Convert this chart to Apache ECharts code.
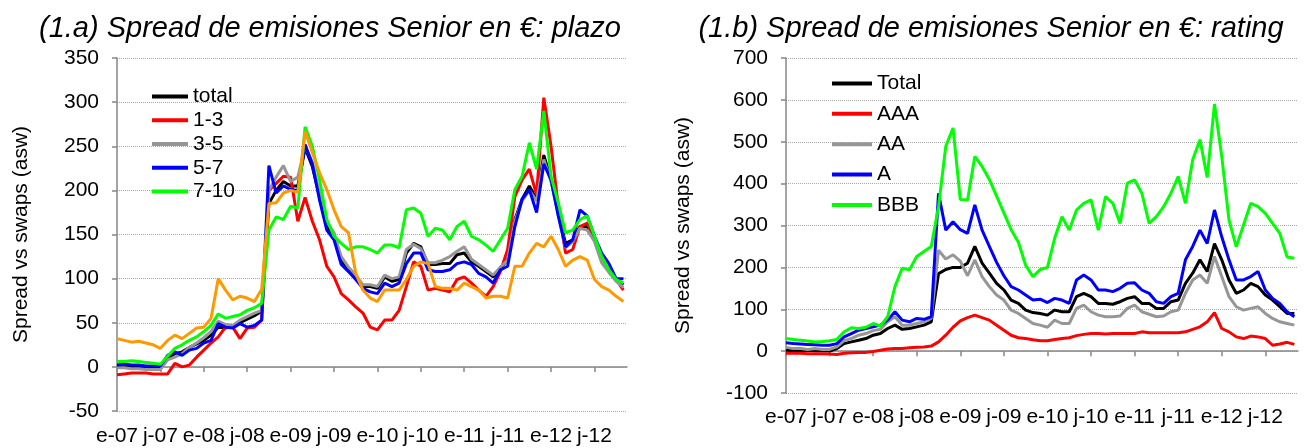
<!DOCTYPE html>
<html>
<head>
<meta charset="utf-8">
<script src="https://cdn.jsdelivr.net/npm/echarts@6/dist/echarts.min.js"></script>
<style>
html, body { margin: 0; padding: 0; background: #fff; }
#chart { width: 1306px; height: 448px; }
</style>
</head>
<body>
<div id="chart"></div>
<script>
// eje x: un valor por mes, indice 0 = enero 2007 ... 70 = noviembre 2012
const tickLabels = ['e-07', 'j-07', 'e-08', 'j-08', 'e-09', 'j-09', 'e-10', 'j-10', 'e-11', 'j-11', 'e-12', 'j-12'];

// (1.a) por plazo
const plazoTotal = [0, 1, 0, 0, -1, -1, -1, 10, 15, 17, 22, 26, 30, 36, 45, 44, 46, 50, 54, 58, 63, 185, 200, 210, 205,
  205, 248, 227, 193, 159, 148, 121, 110, 102, 91, 91, 89, 102, 97, 99, 129, 140, 136, 116, 116, 117, 117, 127,
  129, 119, 114, 108, 102, 112, 121, 167, 190, 205, 190, 240, 212, 174, 140, 144, 159, 159, 144, 121, 110, 99, 93];
const plazo1_3 = [-9, -8, -7, -7, -7, -8, -8, -8, 4, 0, 2, 11, 19, 27, 34, 45, 45, 32, 44, 45, 53, 200, 208, 216, 215,
  165, 192, 165, 144, 114, 102, 83, 76, 68, 61, 45, 42, 53, 53, 64, 91, 119, 114, 87, 89, 87, 85, 99,
  102, 95, 87, 80, 91, 108, 133, 193, 212, 224, 195, 305, 250, 182, 129, 133, 159, 163, 144, 121, 110, 99, 87];
const plazo3_5 = [-1, -1, -2, -2, -3, -3, -3, 8, 11, 15, 22, 27, 33, 40, 52, 48, 47, 53, 57, 61, 64, 200, 215, 228, 210,
  215, 250, 232, 196, 165, 152, 125, 113, 104, 93, 93, 91, 104, 100, 102, 133, 139, 134, 118, 118, 121, 125, 131,
  136, 122, 116, 110, 104, 113, 121, 165, 188, 200, 188, 235, 210, 172, 135, 142, 157, 155, 142, 118, 107, 97, 90];
const plazo5_7 = [2, 3, 2, 2, 1, 1, 1, 13, 17, 13, 19, 21, 27, 30, 49, 45, 44, 49, 45, 47, 53, 228, 197, 205, 201,
  200, 252, 230, 189, 155, 144, 116, 108, 99, 89, 85, 83, 95, 91, 95, 117, 129, 129, 110, 108, 108, 110, 117,
  119, 116, 106, 102, 95, 110, 114, 159, 190, 201, 175, 230, 212, 171, 136, 144, 178, 171, 148, 129, 117, 100, 100];
const plazo7_10 = [6, 6, 7, 6, 5, 4, 3, 12, 21, 25, 30, 34, 40, 47, 60, 55, 57, 59, 64, 67, 72, 155, 170, 167, 182,
  180, 272, 250, 212, 167, 148, 140, 133, 136, 136, 133, 129, 138, 138, 135, 178, 180, 174, 148, 157, 155, 144, 159,
  165, 148, 144, 138, 131, 144, 157, 201, 216, 254, 224, 290, 216, 186, 152, 155, 167, 171, 148, 125, 110, 99, 95];
const plazoMas10 = [32, 30, 28, 29, 27, 25, 21, 30, 36, 32, 38, 44, 45, 55, 100, 87, 76, 80, 78, 74, 88, 185, 186, 197, 200,
  198, 267, 243, 220, 201, 178, 159, 152, 106, 87, 78, 74, 87, 87, 87, 99, 114, 119, 117, 91, 89, 89, 87,
  95, 91, 87, 78, 80, 80, 78, 114, 114, 129, 140, 136, 148, 133, 114, 121, 125, 121, 99, 91, 87, 80, 74];

// (1.b) por rating
const ratingTotal = [2, 1, 0, 2, 1, 1, 0, 6, 18, 22, 26, 30, 38, 42, 54, 62, 52, 54, 58, 62, 70, 185, 195, 200, 200,
  210, 250, 210, 186, 162, 146, 122, 114, 98, 92, 90, 86, 98, 94, 94, 130, 138, 130, 114, 114, 112, 118, 126,
  130, 114, 114, 102, 102, 118, 122, 162, 186, 218, 190, 257, 218, 170, 138, 146, 162, 154, 134, 122, 106, 90, 90];
const ratingAAA = [-5, -5, -5, -6, -6, -6, -7, -8, -5, -4, -3, -3, -1, 2, 5, 6, 6, 8, 9, 10, 12, 22, 38, 57, 72,
  80, 86, 80, 74, 62, 50, 38, 32, 30, 27, 25, 25, 28, 30, 32, 37, 40, 42, 42, 41, 42, 42, 42,
  42, 46, 44, 44, 44, 44, 44, 46, 52, 58, 70, 92, 54, 46, 34, 30, 36, 34, 30, 14, 17, 21, 16];
const ratingAA = [9, 6, 6, 4, 6, 4, 4, 10, 25, 30, 38, 42, 49, 52, 70, 82, 62, 62, 66, 70, 78, 241, 220, 230, 215,
  180, 218, 178, 154, 134, 122, 98, 90, 78, 66, 62, 57, 74, 66, 66, 102, 110, 94, 86, 82, 82, 84, 102,
  110, 94, 88, 82, 84, 94, 98, 138, 170, 182, 162, 226, 178, 130, 106, 98, 102, 106, 90, 78, 70, 66, 62];
const ratingA = [20, 18, 17, 16, 15, 14, 14, 18, 34, 42, 50, 54, 58, 62, 74, 94, 74, 70, 78, 76, 82, 377, 289, 309, 290,
  281, 349, 289, 250, 212, 180, 154, 146, 134, 122, 124, 116, 126, 122, 114, 170, 182, 170, 146, 146, 142, 150, 162,
  163, 146, 138, 118, 114, 130, 138, 218, 250, 289, 257, 337, 273, 218, 170, 170, 178, 190, 146, 126, 114, 94, 82];
const ratingBBB = [30, 28, 26, 24, 22, 23, 25, 28, 46, 56, 54, 57, 66, 60, 82, 154, 198, 194, 226, 238, 250, 345, 489, 533, 362,
  361, 465, 441, 410, 370, 330, 290, 260, 205, 178, 195, 200, 270, 321, 289, 337, 353, 361, 289, 369, 353, 305, 401,
  409, 377, 305, 321, 345, 377, 417, 353, 457, 505, 415, 590, 465, 313, 249, 301, 353, 345, 329, 305, 281, 225, 222];

const FONT = '"Liberation Sans", Arial, sans-serif';
const AXIS_GREY = '#868686';
const tickPos = tickLabels.map((l, i) => i * 6);

const toPoints = arr => arr.map((v, i) => [i, v]);

function lineSeries(name, data, color, xIdx, yIdx) {
    return {
        name: name,
        type: 'line',
        data: toPoints(data),
        xAxisIndex: xIdx,
        yAxisIndex: yIdx,
        symbol: 'none',
        showSymbol: false,
        lineStyle: { color: color, width: 3 },
        itemStyle: { color: color },
        animation: false
    };
}

// eje con la linea en cero + eje solo con etiquetas abajo (como Excel)
function xAxes(gridIndex, labelMargin) {
    return [{
        type: 'value', gridIndex: gridIndex, min: 0, max: 70.5,
        axisLine: { show: true, onZero: true, lineStyle: { color: AXIS_GREY, width: 1.5 } },
        axisTick: { show: true, customValues: tickPos, length: 5, lineStyle: { color: AXIS_GREY, width: 1.5 } },
        axisLabel: { show: false },
        splitLine: { show: false }
    }, {
        type: 'value', gridIndex: gridIndex, min: 0, max: 70.5, position: 'bottom',
        axisLine: { show: false, onZero: false },
        axisTick: { show: false },
        splitLine: { show: false },
        axisLabel: {
            customValues: tickPos,
            formatter: v => tickLabels[Math.round(v / 6)],
            fontFamily: FONT, fontSize: 21, color: '#000', margin: labelMargin
        }
    }];
}

function yAxis(gridIndex, min, max, step, nameGap) {
    return {
        type: 'value', gridIndex: gridIndex, min: min, max: max, interval: step,
        name: 'Spread vs swaps (asw)', nameLocation: 'middle', nameGap: nameGap,
        nameTextStyle: { fontFamily: FONT, fontSize: 21, color: '#000' },
        axisLine: { show: true, lineStyle: { color: AXIS_GREY, width: 1.5 } },
        axisTick: { show: true, length: 5, lineStyle: { color: AXIS_GREY, width: 1.5 } },
        axisLabel: { fontFamily: FONT, fontSize: 21, color: '#000', margin: 18 },
        splitLine: { show: true, lineStyle: { color: '#a8a8a8', type: 'dotted', width: 1 } }
    };
}

const titleStyle = { fontFamily: FONT, fontSize: 29, fontStyle: 'italic', fontWeight: 'normal', color: '#000' };
const legendText = { fontFamily: FONT, fontSize: 21, color: '#000', lineHeight: 21 };

const chart = echarts.init(document.getElementById('chart'), null, { renderer: 'canvas' });
chart.setOption({
    backgroundColor: '#fff',
    animation: false,
    title: [
        { text: '(1.a) Spread de emisiones Senior en €: plazo', left: 325, top: 9, textAlign: 'center', textStyle: titleStyle },
        { text: '(1.b) Spread de emisiones Senior en €: rating', left: 986, top: 9, textAlign: 'center', textStyle: titleStyle }
    ],
    legend: [{
        data: ['total', '1-3', '3-5', '5-7', '7-10'],
        orient: 'vertical', left: 147, top: 81,
        icon: 'rect', itemWidth: 36, itemHeight: 4, itemGap: 2.75,
        textStyle: legendText
    }, {
        data: ['Total', 'AAA', 'AA', 'A', 'BBB'],
        orient: 'vertical', left: 827, top: 68,
        icon: 'rect', itemWidth: 40, itemHeight: 4, itemGap: 9.35,
        textStyle: legendText
    }],
    grid: [
        { left: 117, top: 58, width: 510, height: 353 },
        { left: 786, top: 58, width: 512, height: 335 }
    ],
    xAxis: xAxes(0, 15).concat(xAxes(1, 14)),
    yAxis: [yAxis(0, -50, 350, 50, 85), yAxis(1, -100, 700, 100, 92)],
    series: [
        lineSeries('total', plazoTotal, '#000000', 0, 0),
        lineSeries('1-3', plazo1_3, '#ff0000', 0, 0),
        lineSeries('3-5', plazo3_5, '#969696', 0, 0),
        lineSeries('5-7', plazo5_7, '#0000ff', 0, 0),
        lineSeries('7-10', plazo7_10, '#00ff00', 0, 0),
        lineSeries('>10', plazoMas10, '#ff9900', 0, 0),
        lineSeries('Total', ratingTotal, '#000000', 2, 1),
        lineSeries('AAA', ratingAAA, '#ff0000', 2, 1),
        lineSeries('AA', ratingAA, '#969696', 2, 1),
        lineSeries('A', ratingA, '#0000ff', 2, 1),
        lineSeries('BBB', ratingBBB, '#00ff00', 2, 1)
    ]
});
</script>
</body>
</html>
